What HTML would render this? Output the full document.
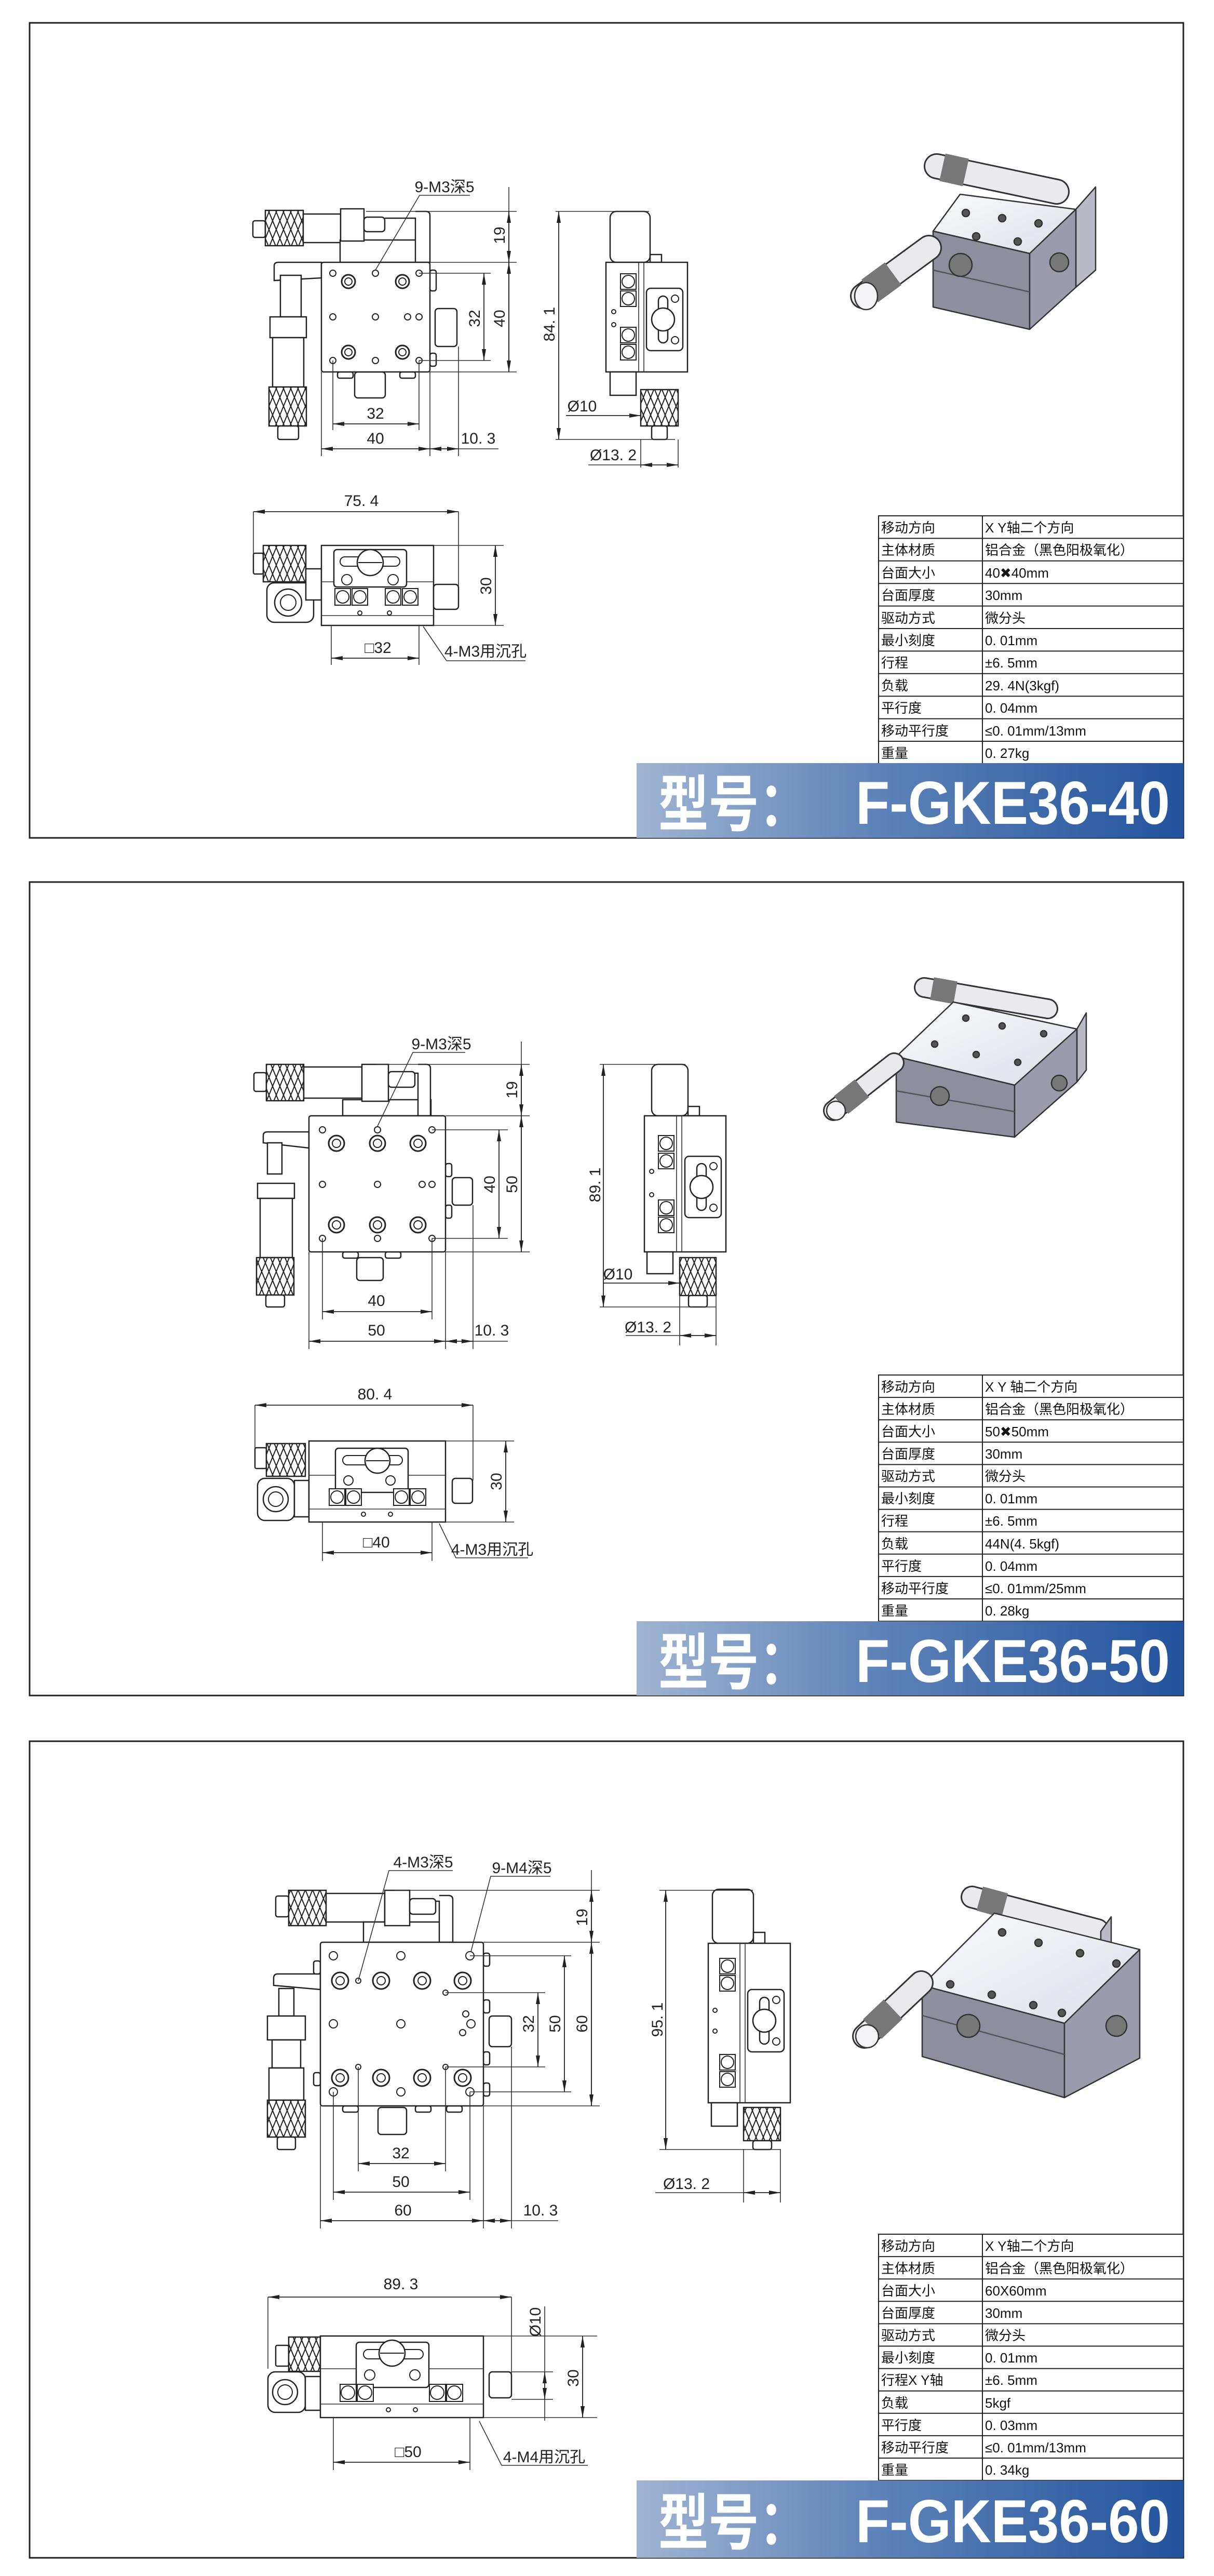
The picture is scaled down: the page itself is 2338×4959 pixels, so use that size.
<!DOCTYPE html>
<html><head><meta charset="utf-8"><style>
html,body{margin:0;padding:0;background:#fff}
svg{display:block}
.o{fill:#fff;stroke:#222;stroke-width:2.5}
.g{fill:#f2f2f2;stroke:#222;stroke-width:2.5}
.k{fill:url(#kn);stroke:#222;stroke-width:2.5}
.e{stroke:#333;stroke-width:1.6;fill:none}
.m{stroke:#222;stroke-width:1.8;fill:none;marker-start:url(#a);marker-end:url(#a)}
.m1{stroke:#222;stroke-width:1.8;fill:none;marker-end:url(#a)}
.t{font-family:"Liberation Sans","Noto Sans CJK SC",sans-serif;font-size:30px;fill:#222}
.tb{font-family:"Liberation Sans","Noto Sans CJK SC",sans-serif;font-size:26px;fill:#111}
.bn{font-family:"Liberation Sans","Noto Sans CJK SC",sans-serif;font-weight:bold;fill:#fff}
.h{fill:#fff;stroke:#222;stroke-width:2}
.tl{stroke:#222;stroke-width:2}
</style></head><body>
<svg width="2338" height="4959" viewBox="0 0 2338 4959" xmlns="http://www.w3.org/2000/svg">
<defs>
<marker id="a" viewBox="0 0 22 8" refX="22" refY="4" markerWidth="22" markerHeight="8" markerUnits="userSpaceOnUse" orient="auto-start-reverse"><path d="M0,0 L22,4 L0,8z" fill="#222"/></marker>
<pattern id="kn" width="14" height="34" patternUnits="userSpaceOnUse"><rect width="14" height="34" fill="#fff"/><path d="M0,0 L14,34 M14,0 L0,34" stroke="#222" stroke-width="2"/></pattern>
<linearGradient id="bg" x1="0" x2="1" y1="0" y2="0"><stop offset="0" stop-color="#9fb4d2"/><stop offset="0.45" stop-color="#5d82b8"/><stop offset="1" stop-color="#22539c"/></linearGradient>
<linearGradient id="tf" x1="0" x2="1" y1="0" y2="1"><stop offset="0" stop-color="#fafbfd"/><stop offset="1" stop-color="#dcdfe8"/></linearGradient>
</defs>
<rect width="2338" height="4959" fill="#fff"/>

<!-- ================= PANEL 1 ================= -->
<rect x="57" y="44" width="2222" height="1569" fill="none" stroke="#222" stroke-width="3"/>
<!-- top view -->
<rect class="o" x="487" y="425" width="24" height="32" rx="4"/>
<rect class="k" x="511" y="405" width="73" height="68"/>
<rect class="o" x="584" y="412" width="72" height="55"/>
<rect class="o" x="655" y="462" width="150" height="43"/>
<rect class="o" x="656" y="402" width="45" height="62"/>
<rect class="o" x="701" y="418" width="40" height="28" rx="6"/>
<path class="o" d="M741,420 H800 V505 H828 V415 Q828,407 820,407 H800"/>
<path class="o" d="M528,540 V512 Q528,505 536,505 H619 V535 Z"/>
<rect class="o" x="540" y="530" width="40" height="80"/>
<rect class="o" x="520" y="610" width="70" height="40"/>
<rect class="o" x="525" y="650" width="60" height="95"/>
<rect class="k" x="518" y="745" width="72" height="75"/>
<rect class="o" x="535" y="820" width="40" height="26" rx="4"/>
<rect class="o" x="828" y="520" width="12" height="40" rx="4"/>
<rect class="o" x="828" y="680" width="12" height="25" rx="4"/>
<rect class="o" x="838" y="594" width="42" height="73" rx="6"/>
<rect class="o" x="650" y="716" width="30" height="12" rx="4"/>
<rect class="o" x="770" y="716" width="30" height="12" rx="4"/>
<rect class="o" x="683" y="716" width="59" height="50" rx="6"/>
<rect class="o" x="619" y="505" width="209" height="211" rx="4"/>
<g class="h"><circle cx="641" cy="526" r="6"/><circle cx="723" cy="526" r="6"/><circle cx="807" cy="526" r="6"/><circle cx="641" cy="610" r="6"/><circle cx="723" cy="610" r="6"/><circle cx="785" cy="610" r="6"/><circle cx="807" cy="610" r="6"/><circle cx="641" cy="694" r="6"/><circle cx="723" cy="694" r="6"/><circle cx="807" cy="694" r="6"/>
<circle cx="671" cy="542" r="13" stroke-width="3"/><circle cx="775" cy="542" r="13" stroke-width="3"/><circle cx="671" cy="678" r="13" stroke-width="3"/><circle cx="775" cy="678" r="13" stroke-width="3"/>
<circle cx="671" cy="542" r="7"/><circle cx="775" cy="542" r="7"/><circle cx="671" cy="678" r="7"/><circle cx="775" cy="678" r="7"/></g>
<!-- dims p1 top -->
<path class="e" d="M705,407 H995 M828,505 H995 M828,716 H995 M807,526 H945 M807,694 H945 M641,694 V828 M807,694 V828 M619,716 V878 M828,716 V878 M883,667 V878"/>
<line class="e" x1="980" y1="360" x2="980" y2="716"/>
<line class="m" x1="980" y1="407" x2="980" y2="505"/>
<line class="m" x1="980" y1="505" x2="980" y2="716"/>
<line class="m" x1="932" y1="526" x2="932" y2="694"/>
<line class="m" x1="641" y1="816" x2="807" y2="816"/>
<line class="m" x1="619" y1="864" x2="828" y2="864"/>
<line class="m" x1="828" y1="864" x2="883" y2="864"/>
<line class="e" x1="883" y1="864" x2="960" y2="864"/>
<text class="t" transform="translate(972,453) rotate(-90)" text-anchor="middle">19</text>
<text class="t" transform="translate(972,613) rotate(-90)" text-anchor="middle">40</text>
<text class="t" transform="translate(924,613) rotate(-90)" text-anchor="middle">32</text>
<text class="t" x="723" y="806" text-anchor="middle">32</text>
<text class="t" x="723" y="854" text-anchor="middle">40</text>
<text class="t" x="921" y="854" text-anchor="middle">10. 3</text>
<path class="e" d="M905,376 H808 L723,520"/>
<text class="t" x="856" y="370" text-anchor="middle">9-M3深5</text>
<!-- side view p1 -->
<rect class="o" x="1175" y="407" width="77" height="98" rx="12"/>
<rect class="o" x="1252" y="490" width="22" height="15"/>
<rect class="o" x="1167" y="505" width="157" height="211"/>
<line class="e" x1="1230" y1="505" x2="1230" y2="716"/>
<line class="e" x1="1240" y1="505" x2="1240" y2="716"/>
<g class="h"><rect x="1195" y="527" width="30" height="30"/><rect x="1195" y="560" width="30" height="30"/><rect x="1195" y="630" width="30" height="30"/><rect x="1195" y="663" width="30" height="30"/>
<circle cx="1210" cy="542" r="12"/><circle cx="1210" cy="575" r="12"/><circle cx="1210" cy="645" r="12"/><circle cx="1210" cy="678" r="12"/>
<circle cx="1182" cy="600" r="4"/><circle cx="1182" cy="625" r="4"/></g>
<rect class="o" x="1245" y="555" width="70" height="120" rx="8"/>
<rect class="o" x="1268" y="570" width="18" height="90" rx="9"/>
<circle class="o" cx="1277" cy="615" r="22"/>
<circle class="h" cx="1300" cy="575" r="7"/><circle class="h" cx="1300" cy="655" r="7"/>
<rect class="o" x="1175" y="716" width="50" height="45"/>
<rect class="k" x="1234" y="750" width="72" height="70"/>
<rect class="o" x="1255" y="820" width="30" height="26" rx="4"/>
<path class="e" d="M1070,407 H1250 M1070,846 H1300 M1234,846 V900 M1306,846 V900"/>
<line class="m" x1="1076" y1="407" x2="1076" y2="846"/>
<text class="t" transform="translate(1068,624) rotate(-90)" text-anchor="middle">84. 1</text>
<line class="m1" x1="1090" y1="800" x2="1234" y2="800"/>
<text class="t" x="1121" y="792" text-anchor="middle">Ø10</text>
<line class="e" x1="1133" y1="895" x2="1234" y2="895"/>
<line class="m" x1="1234" y1="895" x2="1306" y2="895"/>
<text class="t" x="1181" y="886" text-anchor="middle">Ø13. 2</text>
<!-- front view p1 -->
<rect class="o" x="488" y="1065" width="19" height="40" rx="3"/>
<rect class="k" x="507" y="1050" width="82" height="70"/>
<rect class="o" x="514" y="1122" width="90" height="76" rx="14"/>
<circle class="o" cx="555" cy="1160" r="26"/><circle class="h" cx="555" cy="1160" r="15"/>
<rect class="o" x="589" y="1095" width="30" height="60"/>
<rect class="o" x="619" y="1050" width="216" height="154"/>
<line class="e" x1="619" y1="1120" x2="835" y2="1120"/>
<line class="e" x1="619" y1="1185" x2="835" y2="1185"/>
<rect class="o" x="643" y="1058" width="140" height="72" rx="6"/>
<rect class="h" x="655" y="1072" width="115" height="18" rx="9"/>
<circle class="o" cx="713" cy="1083" r="25"/><line class="tl" x1="690" y1="1083" x2="736" y2="1083"/>
<circle class="h" cx="668" cy="1116" r="10"/><circle class="h" cx="757" cy="1116" r="10"/>
<g class="h"><rect x="645" y="1133" width="30" height="32"/><rect x="678" y="1133" width="30" height="32"/><rect x="742" y="1133" width="30" height="32"/><rect x="775" y="1133" width="30" height="32"/>
<circle cx="660" cy="1149" r="12"/><circle cx="693" cy="1149" r="12"/><circle cx="757" cy="1149" r="12"/><circle cx="790" cy="1149" r="12"/><circle cx="693" cy="1180" r="4"/><circle cx="750" cy="1180" r="4"/></g>
<rect class="o" x="835" y="1125" width="48" height="48" rx="6"/>
<path class="e" d="M488,985 V1070 M883,985 V1130 M835,1050 H970 M835,1204 H970 M638,1204 V1280 M807,1204 V1280"/>
<line class="m" x1="488" y1="985" x2="883" y2="985"/>
<text class="t" x="696" y="974" text-anchor="middle">75. 4</text>
<line class="m" x1="954" y1="1050" x2="954" y2="1204"/>
<text class="t" transform="translate(946,1128) rotate(-90)" text-anchor="middle">30</text>
<line class="m" x1="638" y1="1267" x2="807" y2="1267"/>
<text class="t" x="728" y="1257" text-anchor="middle">□32</text>
<path class="e" d="M815,1206 L860,1272 H1012"/>
<text class="t" x="935" y="1264" text-anchor="middle">4-M3用沉孔</text>
<!-- 3D p1 -->
<g stroke="#333" stroke-width="2.5" stroke-linejoin="round">
<line x1="1804" y1="320" x2="2035" y2="369" stroke="#333" stroke-width="50" stroke-linecap="round"/>
<line x1="1804" y1="320" x2="2035" y2="369" stroke="#e9e9ee" stroke-width="44" stroke-linecap="round"/>
<line x1="1815" y1="322" x2="1860" y2="332" stroke="#777" stroke-width="54"/>
<polygon points="2072,403 2110,360 2110,520 2072,553" fill="#b9bac6"/>
<polygon points="1797,445 1849,374 2072,403 1983,488" fill="url(#tf)"/>
<polygon points="1797,445 1983,488 1983,634 1797,591" fill="#8e8f9e"/>
<polygon points="1983,488 2072,403 2072,553 1983,634" fill="#9a9bab"/>
<line x1="1797" y1="520" x2="1983" y2="562" stroke="#555"/>
<line x1="1662" y1="570" x2="1789" y2="477" stroke="#333" stroke-width="50" stroke-linecap="round"/>
<line x1="1662" y1="570" x2="1789" y2="477" stroke="#e9e9ee" stroke-width="44" stroke-linecap="round"/>
<line x1="1675" y1="560" x2="1720" y2="527" stroke="#777" stroke-width="54"/>
<ellipse cx="1668" cy="570" rx="22" ry="26" fill="#f4f4f6"/>
<circle cx="1850" cy="510" r="22" fill="#777"/>
<circle cx="2040" cy="505" r="18" fill="#777"/>
<circle cx="1860" cy="410" r="7" fill="#555"/><circle cx="1930" cy="420" r="7" fill="#555"/><circle cx="2000" cy="430" r="7" fill="#555"/><circle cx="1880" cy="455" r="7" fill="#555"/><circle cx="1960" cy="465" r="7" fill="#555"/>
</g>
<!-- table p1 -->
<g>
<rect x="1692" y="993" width="587" height="477" fill="#fff" stroke="#222" stroke-width="2"/>
<line class="tl" x1="1892" y1="993" x2="1892" y2="1470"/>
<path class="tl" d="M1692,1036.4H2279M1692,1079.8H2279M1692,1123.2H2279M1692,1166.6H2279M1692,1210H2279M1692,1253.4H2279M1692,1296.8H2279M1692,1340.2H2279M1692,1383.6H2279M1692,1427H2279"/>
<g class="tb">
<text x="1697" y="1025">移动方向</text><text x="1897" y="1025">X Y轴二个方向</text>
<text x="1697" y="1068">主体材质</text><text x="1897" y="1068">铝合金（黑色阳极氧化）</text>
<text x="1697" y="1112">台面大小</text><text x="1897" y="1112">40✖40mm</text>
<text x="1697" y="1155">台面厚度</text><text x="1897" y="1155">30mm</text>
<text x="1697" y="1199">驱动方式</text><text x="1897" y="1199">微分头</text>
<text x="1697" y="1242">最小刻度</text><text x="1897" y="1242">0. 01mm</text>
<text x="1697" y="1285">行程</text><text x="1897" y="1285">±6. 5mm</text>
<text x="1697" y="1329">负载</text><text x="1897" y="1329">29. 4N(3kgf)</text>
<text x="1697" y="1372">平行度</text><text x="1897" y="1372">0. 04mm</text>
<text x="1697" y="1416">移动平行度</text><text x="1897" y="1416">≤0. 01mm/13mm</text>
<text x="1697" y="1459">重量</text><text x="1897" y="1459">0. 27kg</text>
</g></g>
<rect x="1226" y="1469" width="1053" height="144" fill="url(#bg)"/>
<text class="bn" x="1268" y="1590" font-size="118" textLength="290" lengthAdjust="spacingAndGlyphs">型号：</text>
<text class="bn" x="1648" y="1586" font-size="117" textLength="605" lengthAdjust="spacingAndGlyphs">F-GKE36-40</text>

<!-- ================= PANEL 2 ================= -->
<rect x="57" y="1698" width="2222" height="1566" fill="none" stroke="#222" stroke-width="3"/>
<rect class="o" x="489" y="2065" width="24" height="36" rx="4"/>
<rect class="k" x="513" y="2049" width="72" height="70"/>
<rect class="o" x="585" y="2054" width="112" height="60"/>
<rect class="o" x="660" y="2117" width="170" height="31"/>
<rect class="o" x="697" y="2049" width="51" height="71"/>
<rect class="o" x="748" y="2063" width="51" height="30" rx="6"/>
<path class="o" d="M799,2066 H805 V2148 H829 V2057 Q829,2049 821,2049 H805"/>
<path class="o" d="M507,2200 V2186 Q507,2179 515,2179 H595 V2210 Z"/>
<rect class="o" x="515" y="2200" width="28" height="60"/>
<rect class="o" x="496" y="2278" width="71" height="29"/>
<rect class="o" x="501" y="2307" width="62" height="114"/>
<rect class="k" x="494" y="2421" width="72" height="72"/>
<rect class="o" x="512" y="2493" width="36" height="23" rx="4"/>
<rect class="o" x="858" y="2240" width="12" height="25" rx="4"/>
<rect class="o" x="858" y="2320" width="12" height="25" rx="4"/>
<rect class="o" x="871" y="2267" width="39" height="53" rx="6"/>
<rect class="o" x="660" y="2410" width="30" height="12" rx="4"/>
<rect class="o" x="742" y="2410" width="30" height="12" rx="4"/>
<rect class="o" x="687" y="2421" width="51" height="44" rx="6"/>
<rect class="o" x="595" y="2148" width="263" height="262" rx="4"/>
<g class="h"><circle cx="621" cy="2175" r="6"/><circle cx="727" cy="2175" r="6"/><circle cx="832" cy="2175" r="6"/><circle cx="621" cy="2280" r="6"/><circle cx="727" cy="2280" r="6"/><circle cx="813" cy="2280" r="6"/><circle cx="832" cy="2280" r="6"/><circle cx="621" cy="2384" r="6"/><circle cx="727" cy="2384" r="6"/><circle cx="832" cy="2384" r="6"/>
<circle cx="648" cy="2201" r="15" stroke-width="3"/><circle cx="727" cy="2201" r="15" stroke-width="3"/><circle cx="805" cy="2201" r="15" stroke-width="3"/><circle cx="648" cy="2358" r="15" stroke-width="3"/><circle cx="727" cy="2358" r="15" stroke-width="3"/><circle cx="805" cy="2358" r="15" stroke-width="3"/>
<circle cx="648" cy="2201" r="8"/><circle cx="727" cy="2201" r="8"/><circle cx="805" cy="2201" r="8"/><circle cx="648" cy="2358" r="8"/><circle cx="727" cy="2358" r="8"/><circle cx="805" cy="2358" r="8"/></g>
<path class="e" d="M725,2049 H1020 M858,2148 H1020 M858,2410 H1020 M832,2175 H978 M832,2384 H978 M621,2384 V2540 M832,2384 V2540 M595,2410 V2597 M858,2410 V2597 M911,2320 V2597"/>
<line class="e" x1="1004" y1="2005" x2="1004" y2="2410"/>
<line class="m" x1="1004" y1="2049" x2="1004" y2="2148"/>
<line class="m" x1="1004" y1="2148" x2="1004" y2="2410"/>
<line class="m" x1="961" y1="2175" x2="961" y2="2384"/>
<line class="m" x1="621" y1="2525" x2="832" y2="2525"/>
<line class="m" x1="595" y1="2582" x2="858" y2="2582"/>
<line class="m" x1="858" y1="2582" x2="911" y2="2582"/>
<line class="e" x1="911" y1="2582" x2="978" y2="2582"/>
<text class="t" transform="translate(996,2098) rotate(-90)" text-anchor="middle">19</text>
<text class="t" transform="translate(996,2280) rotate(-90)" text-anchor="middle">50</text>
<text class="t" transform="translate(953,2280) rotate(-90)" text-anchor="middle">40</text>
<text class="t" x="725" y="2514" text-anchor="middle">40</text>
<text class="t" x="725" y="2571" text-anchor="middle">50</text>
<text class="t" x="947" y="2571" text-anchor="middle">10. 3</text>
<path class="e" d="M896,2026 H795 L727,2168"/>
<text class="t" x="850" y="2020" text-anchor="middle">9-M3深5</text>
<!-- side p2 -->
<rect class="o" x="1255" y="2049" width="70" height="99" rx="12"/>
<rect class="o" x="1325" y="2130" width="22" height="18"/>
<rect class="o" x="1241" y="2148" width="157" height="262"/>
<line class="e" x1="1303" y1="2148" x2="1303" y2="2410"/>
<line class="e" x1="1313" y1="2148" x2="1313" y2="2410"/>
<g class="h"><rect x="1268" y="2186" width="30" height="30"/><rect x="1268" y="2220" width="30" height="30"/><rect x="1268" y="2310" width="30" height="30"/><rect x="1268" y="2343" width="30" height="30"/>
<circle cx="1283" cy="2201" r="12"/><circle cx="1283" cy="2235" r="12"/><circle cx="1283" cy="2325" r="12"/><circle cx="1283" cy="2358" r="12"/>
<circle cx="1255" cy="2255" r="4"/><circle cx="1255" cy="2300" r="4"/></g>
<rect class="o" x="1319" y="2226" width="70" height="118" rx="8"/>
<rect class="o" x="1342" y="2240" width="18" height="90" rx="9"/>
<circle class="o" cx="1351" cy="2285" r="22"/>
<circle class="h" cx="1374" cy="2245" r="7"/><circle class="h" cx="1374" cy="2325" r="7"/>
<rect class="o" x="1246" y="2410" width="50" height="42"/>
<rect class="k" x="1309" y="2421" width="70" height="73"/>
<rect class="o" x="1326" y="2494" width="36" height="22" rx="4"/>
<path class="e" d="M1155,2049 H1320 M1155,2516 H1379 M1309,2494 V2590 M1379,2494 V2590"/>
<line class="m" x1="1162" y1="2049" x2="1162" y2="2516"/>
<text class="t" transform="translate(1156,2281) rotate(-90)" text-anchor="middle">89. 1</text>
<line class="m1" x1="1162" y1="2470" x2="1309" y2="2470"/>
<text class="t" x="1190" y="2463" text-anchor="middle">Ø10</text>
<line class="e" x1="1205" y1="2571" x2="1309" y2="2571"/>
<line class="m" x1="1309" y1="2571" x2="1379" y2="2571"/>
<text class="t" x="1248" y="2565" text-anchor="middle">Ø13. 2</text>
<!-- front p2 -->
<rect class="o" x="491" y="2787" width="22" height="40" rx="3"/>
<rect class="k" x="513" y="2779" width="75" height="63"/>
<rect class="o" x="496" y="2846" width="71" height="81" rx="14"/>
<circle class="o" cx="531" cy="2886" r="24"/><circle class="h" cx="531" cy="2886" r="14"/>
<rect class="o" x="567" y="2850" width="28" height="70"/>
<rect class="o" x="595" y="2774" width="263" height="156"/>
<line class="e" x1="595" y1="2840" x2="858" y2="2840"/>
<line class="e" x1="595" y1="2905" x2="858" y2="2905"/>
<rect class="o" x="646" y="2788" width="140" height="85" rx="6"/>
<rect class="h" x="660" y="2802" width="115" height="18" rx="9"/>
<circle class="o" cx="727" cy="2812" r="24"/><line class="tl" x1="705" y1="2812" x2="749" y2="2812"/>
<circle class="h" cx="671" cy="2850" r="9"/><circle class="h" cx="752" cy="2850" r="9"/>
<g class="h"><rect x="634" y="2866" width="30" height="32"/><rect x="666" y="2866" width="30" height="32"/><rect x="758" y="2866" width="30" height="32"/><rect x="790" y="2866" width="30" height="32"/>
<circle cx="649" cy="2882" r="12"/><circle cx="681" cy="2882" r="12"/><circle cx="773" cy="2882" r="12"/><circle cx="805" cy="2882" r="12"/><circle cx="700" cy="2915" r="4"/><circle cx="752" cy="2915" r="4"/></g>
<rect class="o" x="871" y="2846" width="39" height="48" rx="6"/>
<path class="e" d="M491,2705 V2790 M911,2705 V2850 M858,2774 H990 M858,2930 H990 M621,2930 V3005 M832,2930 V3005"/>
<line class="m" x1="491" y1="2705" x2="911" y2="2705"/>
<text class="t" x="722" y="2694" text-anchor="middle">80. 4</text>
<line class="m" x1="974" y1="2774" x2="974" y2="2930"/>
<text class="t" transform="translate(966,2852) rotate(-90)" text-anchor="middle">30</text>
<line class="m" x1="621" y1="2989" x2="832" y2="2989"/>
<text class="t" x="725" y="2979" text-anchor="middle">□40</text>
<path class="e" d="M846,2933 L878,2999 H1017"/>
<text class="t" x="948" y="2993" text-anchor="middle">4-M3用沉孔</text>
<!-- 3D p2 -->
<g stroke="#333" stroke-width="2.5" stroke-linejoin="round">
<line x1="1780" y1="1901" x2="2018" y2="1942" stroke="#333" stroke-width="40" stroke-linecap="round"/>
<line x1="1780" y1="1901" x2="2018" y2="1942" stroke="#e9e9ee" stroke-width="34" stroke-linecap="round"/>
<line x1="1795" y1="1903" x2="1840" y2="1911" stroke="#777" stroke-width="44"/>
<polygon points="2074,1981 2092,1950 2092,2060 2074,2083" fill="#b9bac6"/>
<polygon points="1726,2034 1836,1929 2074,1981 1954,2089" fill="url(#tf)"/>
<polygon points="1726,2034 1954,2089 1954,2189 1726,2160" fill="#8e8f9e"/>
<polygon points="1954,2089 2074,1981 2074,2083 1954,2189" fill="#9a9bab"/>
<line x1="1726" y1="2100" x2="1954" y2="2140" stroke="#555"/>
<line x1="1605" y1="2138" x2="1722" y2="2046" stroke="#333" stroke-width="40" stroke-linecap="round"/>
<line x1="1605" y1="2138" x2="1722" y2="2046" stroke="#e9e9ee" stroke-width="34" stroke-linecap="round"/>
<line x1="1620" y1="2127" x2="1660" y2="2095" stroke="#777" stroke-width="44"/>
<ellipse cx="1610" cy="2138" rx="18" ry="18" fill="#f4f4f6"/>
<circle cx="1810" cy="2110" r="18" fill="#777"/>
<circle cx="2040" cy="2085" r="15" fill="#777"/>
<circle cx="1860" cy="1960" r="6" fill="#555"/><circle cx="1930" cy="1975" r="6" fill="#555"/><circle cx="2010" cy="1990" r="6" fill="#555"/><circle cx="1800" cy="2010" r="6" fill="#555"/><circle cx="1880" cy="2030" r="6" fill="#555"/><circle cx="1960" cy="2045" r="6" fill="#555"/>
</g>
<!-- table p2 -->
<g>
<rect x="1692" y="2647" width="587" height="474" fill="#fff" stroke="#222" stroke-width="2"/>
<line class="tl" x1="1892" y1="2647" x2="1892" y2="3121"/>
<path class="tl" d="M1692,2690.1H2279M1692,2733.2H2279M1692,2776.3H2279M1692,2819.4H2279M1692,2862.5H2279M1692,2905.6H2279M1692,2948.7H2279M1692,2991.8H2279M1692,3034.9H2279M1692,3078H2279"/>
<g class="tb">
<text x="1697" y="2679">移动方向</text><text x="1897" y="2679">X  Y  轴二个方向</text>
<text x="1697" y="2722">主体材质</text><text x="1897" y="2722">铝合金（黑色阳极氧化）</text>
<text x="1697" y="2765">台面大小</text><text x="1897" y="2765">50✖50mm</text>
<text x="1697" y="2808">台面厚度</text><text x="1897" y="2808">30mm</text>
<text x="1697" y="2851">驱动方式</text><text x="1897" y="2851">微分头</text>
<text x="1697" y="2894">最小刻度</text><text x="1897" y="2894">0. 01mm</text>
<text x="1697" y="2937">行程</text><text x="1897" y="2937">±6. 5mm</text>
<text x="1697" y="2981">负载</text><text x="1897" y="2981">44N(4. 5kgf)</text>
<text x="1697" y="3024">平行度</text><text x="1897" y="3024">0. 04mm</text>
<text x="1697" y="3067">移动平行度</text><text x="1897" y="3067">≤0. 01mm/25mm</text>
<text x="1697" y="3110">重量</text><text x="1897" y="3110">0. 28kg</text>
</g></g>
<rect x="1226" y="3121" width="1053" height="143" fill="url(#bg)"/>
<text class="bn" x="1268" y="3242" font-size="118" textLength="290" lengthAdjust="spacingAndGlyphs">型号：</text>
<text class="bn" x="1648" y="3238" font-size="117" textLength="605" lengthAdjust="spacingAndGlyphs">F-GKE36-50</text>

<!-- ================= PANEL 3 ================= -->
<rect x="57" y="3352" width="2222" height="1572" fill="none" stroke="#222" stroke-width="3"/>
<rect class="o" x="531" y="3650" width="25" height="40" rx="4"/>
<rect class="k" x="556" y="3639" width="72" height="68"/>
<rect class="o" x="628" y="3645" width="113" height="55"/>
<rect class="o" x="700" y="3700" width="170" height="39"/>
<rect class="o" x="741" y="3639" width="48" height="68"/>
<rect class="o" x="789" y="3655" width="50" height="30" rx="6"/>
<path class="o" d="M839,3660 H846 V3739 H872 V3657 Q872,3649 864,3649 H846"/>
<path class="o" d="M527,3822 V3808 Q527,3800 535,3800 H617 V3830 Z"/>
<rect class="o" x="537" y="3828" width="29" height="53"/>
<rect class="o" x="515" y="3881" width="73" height="46"/>
<rect class="o" x="524" y="3927" width="55" height="54"/>
<rect class="o" x="518" y="3981" width="67" height="62"/>
<rect class="k" x="515" y="4043" width="73" height="71"/>
<rect class="o" x="534" y="4114" width="35" height="24" rx="4"/>
<rect class="o" x="604" y="3775" width="13" height="25" rx="4"/><rect class="o" x="604" y="3990" width="13" height="25" rx="4"/>
<rect class="o" x="931" y="3760" width="12" height="25" rx="4"/><rect class="o" x="931" y="3850" width="12" height="25" rx="4"/>
<rect class="o" x="931" y="3950" width="12" height="25" rx="4"/><rect class="o" x="931" y="4010" width="12" height="25" rx="4"/>
<rect class="o" x="942" y="3881" width="43" height="59" rx="6"/>
<rect class="o" x="660" y="4054" width="30" height="12" rx="4"/><rect class="o" x="800" y="4054" width="30" height="12" rx="4"/><rect class="o" x="860" y="4054" width="30" height="12" rx="4"/>
<rect class="o" x="728" y="4057" width="55" height="52" rx="6"/>
<rect class="o" x="617" y="3739" width="314" height="315" rx="4"/>
<g class="h"><circle cx="642" cy="3765" r="8"/><circle cx="772" cy="3765" r="8"/><circle cx="905" cy="3765" r="8"/><circle cx="642" cy="3896" r="8"/><circle cx="772" cy="3896" r="8"/><circle cx="907" cy="3896" r="8"/><circle cx="642" cy="4027" r="8"/><circle cx="772" cy="4027" r="8"/><circle cx="905" cy="4027" r="8"/>
<circle cx="897" cy="3877" r="6"/><circle cx="891" cy="3913" r="6"/>
<circle cx="690" cy="3813" r="5"/><circle cx="858" cy="3836" r="5"/><circle cx="690" cy="3979" r="5"/><circle cx="858" cy="3979" r="5"/>
<circle cx="655" cy="3813" r="16" stroke-width="3"/><circle cx="734" cy="3813" r="16" stroke-width="3"/><circle cx="813" cy="3813" r="16" stroke-width="3"/><circle cx="891" cy="3813" r="16" stroke-width="3"/>
<circle cx="655" cy="4000" r="16" stroke-width="3"/><circle cx="734" cy="4000" r="16" stroke-width="3"/><circle cx="813" cy="4000" r="16" stroke-width="3"/><circle cx="891" cy="4000" r="16" stroke-width="3"/>
<circle cx="655" cy="3813" r="8"/><circle cx="734" cy="3813" r="8"/><circle cx="813" cy="3813" r="8"/><circle cx="891" cy="3813" r="8"/><circle cx="655" cy="4000" r="8"/><circle cx="734" cy="4000" r="8"/><circle cx="813" cy="4000" r="8"/><circle cx="891" cy="4000" r="8"/></g>
<path class="e" d="M760,3639 H1155 M931,3739 H1155 M931,4054 H1155 M905,3765 H1100 M905,4027 H1100 M858,3836 H1050 M858,3979 H1050 M690,3979 V4180 M858,3979 V4180 M642,4027 V4235 M905,4027 V4235 M617,4054 V4290 M931,4054 V4290 M985,3940 V4290"/>
<line class="e" x1="1139" y1="3600" x2="1139" y2="4054"/>
<line class="m" x1="1139" y1="3639" x2="1139" y2="3739"/>
<line class="m" x1="1139" y1="3739" x2="1139" y2="4054"/>
<line class="m" x1="1087" y1="3765" x2="1087" y2="4027"/>
<line class="m" x1="1036" y1="3836" x2="1036" y2="3979"/>
<line class="m" x1="690" y1="4165" x2="858" y2="4165"/>
<line class="m" x1="642" y1="4220" x2="905" y2="4220"/>
<line class="m" x1="617" y1="4275" x2="931" y2="4275"/>
<line class="m" x1="931" y1="4275" x2="985" y2="4275"/>
<line class="e" x1="985" y1="4275" x2="1075" y2="4275"/>
<text class="t" transform="translate(1131,3691) rotate(-90)" text-anchor="middle">19</text>
<text class="t" transform="translate(1131,3896) rotate(-90)" text-anchor="middle">60</text>
<text class="t" transform="translate(1079,3896) rotate(-90)" text-anchor="middle">50</text>
<text class="t" transform="translate(1028,3896) rotate(-90)" text-anchor="middle">32</text>
<text class="t" x="772" y="4155" text-anchor="middle">32</text>
<text class="t" x="772" y="4210" text-anchor="middle">50</text>
<text class="t" x="776" y="4265" text-anchor="middle">60</text>
<text class="t" x="1041" y="4265" text-anchor="middle">10. 3</text>
<path class="e" d="M872,3601 H749 L690,3813"/>
<text class="t" x="815" y="3595" text-anchor="middle">4-M3深5</text>
<path class="e" d="M1060,3612 H945 L907,3757"/>
<text class="t" x="1005" y="3606" text-anchor="middle">9-M4深5</text>
<!-- side p3 -->
<rect class="o" x="1372" y="3637" width="79" height="104" rx="12"/>
<rect class="o" x="1451" y="3720" width="22" height="21"/>
<rect class="o" x="1364" y="3741" width="158" height="307"/>
<line class="e" x1="1425" y1="3741" x2="1425" y2="4048"/>
<line class="e" x1="1435" y1="3741" x2="1435" y2="4048"/>
<g class="h"><rect x="1386" y="3770" width="30" height="30"/><rect x="1386" y="3803" width="30" height="30"/><rect x="1386" y="3955" width="30" height="30"/><rect x="1386" y="3988" width="30" height="30"/>
<circle cx="1401" cy="3785" r="12"/><circle cx="1401" cy="3818" r="12"/><circle cx="1401" cy="3970" r="12"/><circle cx="1401" cy="4003" r="12"/>
<circle cx="1377" cy="3870" r="4"/><circle cx="1377" cy="3910" r="4"/></g>
<rect class="o" x="1440" y="3830" width="70" height="120" rx="8"/>
<rect class="o" x="1463" y="3845" width="18" height="90" rx="9"/>
<circle class="o" cx="1472" cy="3890" r="22"/>
<circle class="h" cx="1495" cy="3850" r="7"/><circle class="h" cx="1495" cy="3930" r="7"/>
<rect class="o" x="1370" y="4048" width="50" height="45"/>
<rect class="k" x="1432" y="4057" width="71" height="64"/>
<rect class="o" x="1450" y="4121" width="36" height="17" rx="4"/>
<path class="e" d="M1270,3639 H1450 M1270,4138 H1503 M1432,4137 V4240 M1503,4137 V4240"/>
<line class="m" x1="1282" y1="3639" x2="1282" y2="4138"/>
<text class="t" transform="translate(1276,3888) rotate(-90)" text-anchor="middle">95. 1</text>
<line class="e" x1="1262" y1="4221" x2="1432" y2="4221"/>
<line class="m" x1="1432" y1="4221" x2="1503" y2="4221"/>
<text class="t" x="1322" y="4214" text-anchor="middle">Ø13. 2</text>
<!-- front p3 -->
<rect class="o" x="531" y="4515" width="25" height="40" rx="3"/>
<rect class="k" x="556" y="4499" width="61" height="66"/>
<rect class="o" x="516" y="4566" width="72" height="78" rx="14"/>
<circle class="o" cx="549" cy="4605" r="24"/><circle class="h" cx="549" cy="4605" r="14"/>
<rect class="o" x="588" y="4575" width="29" height="65"/>
<rect class="o" x="617" y="4497" width="314" height="157"/>
<line class="e" x1="617" y1="4560" x2="931" y2="4560"/>
<line class="e" x1="617" y1="4628" x2="931" y2="4628"/>
<rect class="o" x="686" y="4509" width="140" height="87" rx="6"/>
<rect class="h" x="700" y="4523" width="115" height="18" rx="9"/>
<circle class="o" cx="755" cy="4530" r="25"/><line class="tl" x1="732" y1="4530" x2="778" y2="4530"/>
<circle class="h" cx="712" cy="4572" r="10"/><circle class="h" cx="799" cy="4572" r="10"/>
<g class="h"><rect x="655" y="4590" width="31" height="33"/><rect x="688" y="4590" width="31" height="33"/><rect x="827" y="4590" width="31" height="33"/><rect x="860" y="4590" width="31" height="33"/>
<circle cx="670" cy="4606" r="13"/><circle cx="703" cy="4606" r="13"/><circle cx="842" cy="4606" r="13"/><circle cx="875" cy="4606" r="13"/><circle cx="748" cy="4639" r="4"/><circle cx="800" cy="4639" r="4"/></g>
<rect class="o" x="942" y="4566" width="43" height="50" rx="6"/>
<path class="e" d="M516,4422 V4560 M985,4422 V4570 M931,4497 H1150 M931,4654 H1150 M985,4566 H1065 M985,4619 H1065 M642,4654 V4755 M905,4654 V4755"/>
<line class="m" x1="516" y1="4422" x2="985" y2="4422"/>
<text class="t" x="772" y="4407" text-anchor="middle">89. 3</text>
<line class="e" x1="1049" y1="4440" x2="1049" y2="4566"/>
<line class="m" x1="1049" y1="4566" x2="1049" y2="4619"/>
<line class="e" x1="1049" y1="4619" x2="1049" y2="4660"/>
<text class="t" transform="translate(1041,4470) rotate(-90)" text-anchor="middle">Ø10</text>
<line class="m" x1="1122" y1="4497" x2="1122" y2="4654"/>
<text class="t" transform="translate(1114,4578) rotate(-90)" text-anchor="middle">30</text>
<line class="m" x1="642" y1="4740" x2="905" y2="4740"/>
<text class="t" x="786" y="4730" text-anchor="middle">□50</text>
<path class="e" d="M923,4661 L966,4746 H1132"/>
<text class="t" x="1048" y="4740" text-anchor="middle">4-M4用沉孔</text>
<!-- 3D p3 -->
<g stroke="#333" stroke-width="2.5" stroke-linejoin="round">
<line x1="1872" y1="3652" x2="2114" y2="3715" stroke="#333" stroke-width="44" stroke-linecap="round"/>
<line x1="1872" y1="3652" x2="2114" y2="3715" stroke="#e9e9ee" stroke-width="38" stroke-linecap="round"/>
<line x1="1887" y1="3655" x2="1935" y2="3668" stroke="#777" stroke-width="48"/>
<polygon points="2120,3718 2140,3690 2140,3760 2120,3780" fill="#b9bac6"/>
<polygon points="1776,3822 1915,3683 2195,3753 2050,3895" fill="url(#tf)"/>
<polygon points="1776,3822 2050,3895 2050,4038 1776,3959" fill="#8e8f9e"/>
<polygon points="2050,3895 2195,3753 2195,3962 2050,4038" fill="#9a9bab"/>
<line x1="1776" y1="3880" x2="2050" y2="3955" stroke="#555"/>
<line x1="1665" y1="3920" x2="1774" y2="3817" stroke="#333" stroke-width="48" stroke-linecap="round"/>
<line x1="1665" y1="3920" x2="1774" y2="3817" stroke="#e9e9ee" stroke-width="42" stroke-linecap="round"/>
<line x1="1680" y1="3906" x2="1720" y2="3868" stroke="#777" stroke-width="52"/>
<ellipse cx="1670" cy="3920" rx="22" ry="22" fill="#f4f4f6"/>
<circle cx="1865" cy="3900" r="22" fill="#777"/>
<circle cx="2150" cy="3900" r="20" fill="#777"/>
<circle cx="1930" cy="3720" r="7" fill="#555"/><circle cx="2000" cy="3740" r="7" fill="#555"/><circle cx="2080" cy="3760" r="7" fill="#555"/><circle cx="2150" cy="3780" r="7" fill="#555"/><circle cx="1830" cy="3820" r="7" fill="#555"/><circle cx="1910" cy="3840" r="7" fill="#555"/><circle cx="1990" cy="3860" r="7" fill="#555"/><circle cx="2045" cy="3875" r="7" fill="#555"/>
</g>
<!-- table p3 -->
<g>
<rect x="1692" y="4301" width="587" height="474" fill="#fff" stroke="#222" stroke-width="2"/>
<line class="tl" x1="1892" y1="4301" x2="1892" y2="4775"/>
<path class="tl" d="M1692,4344.1H2279M1692,4387.2H2279M1692,4430.3H2279M1692,4473.4H2279M1692,4516.5H2279M1692,4559.6H2279M1692,4602.7H2279M1692,4645.8H2279M1692,4688.9H2279M1692,4732H2279"/>
<g class="tb">
<text x="1697" y="4333">移动方向</text><text x="1897" y="4333">X Y轴二个方向</text>
<text x="1697" y="4376">主体材质</text><text x="1897" y="4376">铝合金（黑色阳极氧化）</text>
<text x="1697" y="4419">台面大小</text><text x="1897" y="4419">60X60mm</text>
<text x="1697" y="4462">台面厚度</text><text x="1897" y="4462">30mm</text>
<text x="1697" y="4505">驱动方式</text><text x="1897" y="4505">微分头</text>
<text x="1697" y="4548">最小刻度</text><text x="1897" y="4548">0. 01mm</text>
<text x="1697" y="4591">行程X Y轴</text><text x="1897" y="4591">±6. 5mm</text>
<text x="1697" y="4635">负载</text><text x="1897" y="4635">5kgf</text>
<text x="1697" y="4678">平行度</text><text x="1897" y="4678">0. 03mm</text>
<text x="1697" y="4721">移动平行度</text><text x="1897" y="4721">≤0. 01mm/13mm</text>
<text x="1697" y="4764">重量</text><text x="1897" y="4764">0. 34kg</text>
</g></g>
<rect x="1226" y="4775" width="1053" height="149" fill="url(#bg)"/>
<text class="bn" x="1268" y="4898" font-size="118" textLength="290" lengthAdjust="spacingAndGlyphs">型号：</text>
<text class="bn" x="1648" y="4894" font-size="117" textLength="605" lengthAdjust="spacingAndGlyphs">F-GKE36-60</text>
</svg>
</body></html>
